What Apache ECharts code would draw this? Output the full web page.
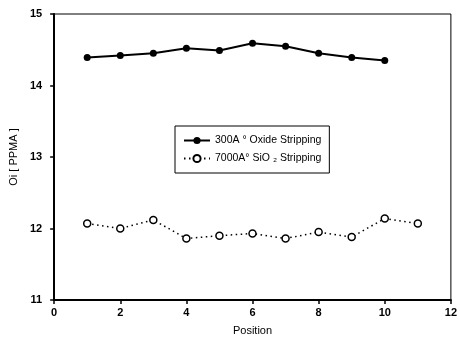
<!DOCTYPE html>
<html>
<head>
<meta charset="utf-8">
<script src="https://cdn.jsdelivr.net/npm/echarts@6/dist/echarts.min.js"></script>
<style>
  html, body { margin: 0; padding: 0; background: #fff; }
  #chart { width: 460px; height: 348px; }
</style>
</head>
<body>
<div id="chart"></div>
<script>
// positions along the wafer
const positions1 = [1, 2, 3, 4, 5, 6, 7, 8, 9, 10];
const positions2 = [1, 2, 3, 4, 5, 6, 7, 8, 9, 10, 11];
// Oi [PPMA] readings
const oxideValues = [14.39, 14.42, 14.45, 14.52, 14.49, 14.59, 14.55, 14.45, 14.39, 14.35];
const sio2Values = [12.07, 12.0, 12.12, 11.86, 11.9, 11.93, 11.86, 11.95, 11.88, 12.14, 12.07];
const seriesNames = ["300A ° Oxide Stripping", "7000A° SiO ₂ Stripping"];

const chart = echarts.init(document.getElementById("chart"));
const font = "Liberation Sans, Arial, sans-serif";

const option = {
  animation: false,
  backgroundColor: "#fff",
  textStyle: { fontFamily: font, color: "#000" },
  grid: {
    left: 54,
    right: 5,
    top: 14,
    bottom: 48,
    show: true,
    borderColor: "#000",
    borderWidth: 1,
  },
  legend: {
    orient: "vertical",
    left: 175,
    top: 126,
    itemGap: 7,
    itemWidth: 26,
    itemHeight: 9,
    padding: [9, 8, 9, 8],
    borderColor: "#000",
    borderWidth: 1,
    backgroundColor: "#fff",
    textStyle: { fontFamily: font, fontSize: 10.5, color: "#000" },
    data: seriesNames,
  },
  xAxis: {
    type: "value",
    min: 0,
    max: 12,
    interval: 2,
    name: "Position",
    nameLocation: "middle",
    nameGap: 25,
    nameTextStyle: { fontSize: 11, color: "#000" },
    axisLine: { lineStyle: { color: "#000", width: 2 } },
    axisTick: { show: true, inside: false, length: 4, lineStyle: { color: "#000", width: 1.5 } },
    axisLabel: { fontSize: 11, fontWeight: "bold", color: "#000", margin: 7 },
    splitLine: { show: false },
  },
  yAxis: {
    type: "value",
    min: 11,
    max: 15,
    interval: 1,
    name: "Oi [ PPMA ]",
    nameLocation: "middle",
    nameGap: 34,
    nameTextStyle: { fontSize: 11, color: "#000" },
    axisLine: { show: true, lineStyle: { color: "#000", width: 2 } },
    axisTick: { show: true, inside: false, length: 4, lineStyle: { color: "#000", width: 1.5 } },
    axisLabel: { fontSize: 11, fontWeight: "bold", color: "#000", margin: 12 },
    splitLine: { show: false },
  },
  series: [
    {
      name: seriesNames[0],
      type: "line",
      data: positions1.map((p, i) => [p, oxideValues[i]]),
      symbol: "circle",
      symbolSize: 7,
      itemStyle: { color: "#000" },
      lineStyle: { color: "#000", width: 2 },
    },
    {
      name: seriesNames[1],
      type: "line",
      data: positions2.map((p, i) => [p, sio2Values[i]]),
      symbol: "circle",
      symbolSize: 7,
      itemStyle: { color: "#fff", borderColor: "#000", borderWidth: 1.5 },
      lineStyle: { color: "#000", width: 1.5, type: [1.5, 3.5] },
    },
  ],
};

chart.setOption(option);
</script>
</body>
</html>
